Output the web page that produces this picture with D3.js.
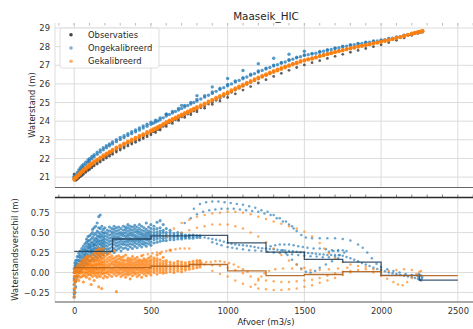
<!DOCTYPE html>
<html><head><meta charset="utf-8">
<script src="https://cdn.jsdelivr.net/npm/d3@7"></script>
<style>body{margin:0;background:#fff;}svg{display:block;font-family:"DejaVu Sans",sans-serif;}</style>
</head><body><svg id="c" width="473" height="329"></svg>
<script>
// ---------- DATA ----------
const title = "Maaseik_HIC";
const seriesNames = ["Observaties", "Ongekalibreerd", "Gekalibreerd"];
const xTicks = [0, 500, 1000, 1500, 2000, 2500];
const topYTicks = [21, 22, 23, 24, 25, 26, 27, 28, 29];
const botYTicks = [-0.25, 0, 0.25, 0.5, 0.75];

// top panel: discharge grid and water levels per track
const topQ = [0,10,20,30,40,50,60,75,90,100,115,130,150,170,190,210,230,250,275,300,325,350,375,400,425,450,475,500,530,560,600,640,680,720,760,800,850,900,950,1000,1050,1100,1150,1200,1250,1300,1350,1400,1450,1500,1550,1600,1650,1700,1750,1800,1850,1900,1950,2000,2050,2100,2150,2200,2240,2270];
const obsA = [21.15,20.88,20.95,21.02,21.10,21.17,21.24,21.34,21.44,21.50,21.60,21.69,21.80,21.91,22.02,22.12,22.22,22.32,22.44,22.55,22.66,22.77,22.87,22.97,23.07,23.17,23.27,23.37,23.49,23.62,23.83,23.99,24.15,24.31,24.46,24.62,24.82,25.02,25.22,25.44,25.67,25.88,26.08,26.28,26.48,26.66,26.83,26.99,27.14,27.28,27.39,27.52,27.63,27.73,27.83,27.92,28.01,28.10,28.18,28.26,28.35,28.44,28.55,28.67,28.75,28.81];
const obsB = [20.95,20.82,20.88,20.95,21.02,21.08,21.15,21.25,21.35,21.41,21.50,21.60,21.70,21.81,21.92,22.02,22.12,22.22,22.34,22.45,22.56,22.67,22.77,22.87,22.97,23.07,23.17,23.27,23.39,23.52,23.72,23.88,24.04,24.20,24.35,24.50,24.70,24.90,25.08,25.27,25.47,25.67,25.86,26.05,26.23,26.40,26.57,26.73,26.88,27.02,27.14,27.25,27.37,27.48,27.59,27.70,27.80,27.90,28.00,28.10,28.22,28.34,28.47,28.61,28.71,28.79];
const blueA = [20.97,21.03,21.13,21.24,21.35,21.45,21.54,21.67,21.79,21.86,21.98,22.09,22.22,22.34,22.46,22.57,22.68,22.78,22.90,23.01,23.12,23.23,23.33,23.43,23.53,23.63,23.73,23.83,23.95,24.08,24.28,24.44,24.60,24.76,24.92,25.08,25.29,25.49,25.70,25.90,26.10,26.28,26.46,26.64,26.80,26.96,27.11,27.26,27.40,27.53,27.60,27.70,27.80,27.90,27.99,28.07,28.14,28.21,28.28,28.34,28.42,28.50,28.59,28.70,28.76,28.80];
const blueB = [21.05,21.12,21.25,21.38,21.50,21.60,21.68,21.80,21.92,21.98,22.10,22.20,22.33,22.46,22.57,22.68,22.78,22.88,23.00,23.12,23.22,23.33,23.43,23.53,23.64,23.74,23.84,23.94,24.05,24.18,24.36,24.52,24.68,24.84,25.00,25.16,25.37,25.57,25.77,25.97,26.16,26.34,26.52,26.69,26.85,27.01,27.15,27.30,27.43,27.56,27.64,27.74,27.84,27.93,28.02,28.10,28.17,28.24,28.30,28.36,28.44,28.52,28.61,28.71,28.78,28.83];
const orangeA = [20.85,20.93,21.01,21.09,21.17,21.25,21.32,21.42,21.52,21.58,21.68,21.77,21.88,21.99,22.10,22.20,22.30,22.40,22.52,22.63,22.74,22.85,22.95,23.05,23.15,23.25,23.35,23.45,23.57,23.70,23.90,24.06,24.22,24.38,24.54,24.70,24.90,25.10,25.30,25.50,25.71,25.91,26.10,26.29,26.47,26.64,26.80,26.96,27.11,27.25,27.35,27.48,27.59,27.70,27.80,27.90,27.99,28.08,28.17,28.25,28.35,28.45,28.56,28.68,28.76,28.82];
const orangeB = [20.92,21.00,21.09,21.16,21.25,21.31,21.40,21.49,21.58,21.66,21.75,21.85,21.95,22.06,22.17,22.27,22.37,22.47,22.59,22.70,22.81,22.91,23.02,23.12,23.22,23.31,23.42,23.51,23.63,23.76,23.96,24.12,24.28,24.44,24.60,24.76,24.96,25.16,25.36,25.56,25.77,25.97,26.16,26.35,26.53,26.70,26.86,27.01,27.15,27.28,27.37,27.50,27.61,27.72,27.82,27.92,28.01,28.10,28.19,28.28,28.38,28.48,28.59,28.71,28.79,28.86];
// extra readings between the grid points at higher discharges
const topQ2 = [515,545,580,620,660,700,740,780,825,875,925,975,1025,1075,1125,1175,1225,1275,1325,1375,1425,1475,1525,1575,1625,1675,1725,1775,1825,1875,1925,1975,2025,2075,2125,2175,2220,2255];
const obsA2 = [23.43,23.55,23.72,23.91,24.07,24.23,24.38,24.54,24.72,24.92,25.12,25.33,25.55,25.77,25.98,26.18,26.38,26.57,26.75,26.91,27.06,27.21,27.33,27.45,27.57,27.68,27.78,27.87,27.96,28.05,28.14,28.22,28.30,28.39,28.49,28.61,28.71,28.78];
const blueA2 = [23.89,24.01,24.18,24.36,24.52,24.68,24.84,25.00,25.19,25.39,25.60,25.80,26.00,26.19,26.37,26.55,26.72,26.88,27.03,27.18,27.33,27.46,27.57,27.65,27.75,27.85,27.94,28.03,28.10,28.17,28.24,28.31,28.38,28.46,28.54,28.64,28.73,28.78];
const orangeA2 = [23.51,23.63,23.80,23.98,24.14,24.30,24.46,24.62,24.80,25.00,25.20,25.40,25.61,25.81,26.01,26.20,26.38,26.56,26.72,26.88,27.04,27.18,27.30,27.41,27.53,27.64,27.75,27.85,27.94,28.03,28.12,28.21,28.30,28.40,28.50,28.62,28.72,28.79];
const orangeB2 = [23.57,23.69,23.86,24.04,24.20,24.36,24.52,24.68,24.86,25.06,25.26,25.46,25.67,25.87,26.07,26.26,26.44,26.62,26.78,26.94,27.09,27.23,27.33,27.43,27.55,27.66,27.77,27.87,27.96,28.05,28.14,28.23,28.33,28.43,28.53,28.65,28.75,28.82];
const blueTopExtra = [[600,24.39],[700,24.85],[800,25.37],[900,25.84],[1000,26.29],[1100,26.72],[1200,27.08],[1300,27.38],[1400,27.59],[1500,27.75]];

// bottom panel: dense clouds as [Q, [differences]]
const blueCloud = [
[0,[-0.31,-0.27,-0.22,-0.15,-0.08,0.0,0.05]],[5,[-0.25,-0.12,-0.05,0.02,0.08,0.12]],[10,[-0.18,-0.1,0.0,0.06,0.1,0.15]],
[20,[-0.05,0.02,0.08,0.12,0.16,0.2]],[30,[0.0,0.06,0.1,0.15,0.2,0.24]],[40,[0.02,0.08,0.14,0.18,0.22,0.27]],
[50,[0.05,0.1,0.15,0.2,0.25,0.3,0.12]],[60,[0.08,0.13,0.18,0.23,0.28,0.33]],[70,[0.1,0.15,0.2,0.26,0.3,0.36,0.22]],
[80,[0.12,0.18,0.24,0.28,0.33,0.38,0.42]],[90,[0.1,0.16,0.22,0.27,0.31,0.36,0.4,0.45]],[100,[0.14,0.2,0.25,0.3,0.35,0.4,0.46,0.33]],
[110,[0.15,0.22,0.28,0.32,0.37,0.42,0.48,0.26]],[120,[0.18,0.24,0.29,0.34,0.38,0.44,0.5,0.54]],[130,[0.16,0.22,0.27,0.31,0.36,0.41,0.47,0.56,0.34]],
[140,[0.2,0.25,0.3,0.35,0.39,0.43,0.49,0.58]],[150,[0.18,0.24,0.29,0.33,0.38,0.42,0.46,0.52,0.62]],[160,[0.22,0.27,0.31,0.36,0.4,0.45,0.5,0.56,0.7]],
[170,[0.2,0.26,0.3,0.35,0.39,0.44,0.48,0.55,0.72]],[180,[0.24,0.29,0.33,0.37,0.41,0.46,0.51,0.58]],[190,[0.22,0.28,0.32,0.36,0.4,0.44,0.49,0.54]],
[200,[0.25,0.3,0.34,0.38,0.42,0.46,0.5,0.56]],[215,[0.24,0.29,0.33,0.37,0.41,0.45,0.49,0.53]],[230,[0.26,0.3,0.35,0.39,0.43,0.47,0.52,0.57]],
[245,[0.27,0.32,0.36,0.4,0.44,0.48,0.51,0.55]],[260,[0.25,0.3,0.35,0.39,0.43,0.46,0.5,0.54,0.58]],[275,[0.28,0.33,0.37,0.41,0.44,0.48,0.52,0.56]],
[290,[0.3,0.34,0.38,0.42,0.45,0.49,0.53,0.57]],[305,[0.27,0.32,0.36,0.4,0.43,0.47,0.5,0.55]],[320,[0.3,0.35,0.38,0.42,0.46,0.49,0.53,0.58]],
[335,[0.31,0.35,0.39,0.43,0.46,0.5,0.54,0.57]],[350,[0.29,0.34,0.38,0.41,0.45,0.48,0.52,0.56,0.6]],[365,[0.32,0.36,0.4,0.43,0.47,0.5,0.54,0.58]],
[380,[0.3,0.35,0.39,0.42,0.46,0.49,0.53,0.57]],[395,[0.33,0.37,0.4,0.44,0.47,0.51,0.55,0.59]],[410,[0.31,0.36,0.4,0.43,0.46,0.5,0.53,0.57]],
[425,[0.34,0.38,0.41,0.44,0.48,0.51,0.55,0.6]],[440,[0.32,0.36,0.4,0.43,0.46,0.49,0.53,0.58]],[455,[0.35,0.38,0.42,0.45,0.48,0.52,0.56]],
[470,[0.33,0.37,0.41,0.44,0.47,0.5,0.54,0.62]],[485,[0.36,0.4,0.43,0.46,0.49,0.52,0.57]],[500,[0.34,0.38,0.42,0.45,0.48,0.51,0.55,0.6]],
[520,[0.37,0.41,0.44,0.47,0.5,0.54,0.58]],[540,[0.38,0.42,0.45,0.48,0.51,0.55,0.63]],[560,[0.39,0.43,0.46,0.49,0.52,0.56,0.65]],
[580,[0.4,0.43,0.46,0.5,0.53,0.6]],[600,[0.4,0.44,0.47,0.5,0.55]],[625,[0.41,0.44,0.47,0.5,0.53]],[650,[0.41,0.44,0.46,0.49]],
[675,[0.42,0.45,0.47,0.5]],[700,[0.42,0.44,0.47,0.49]],[725,[0.43,0.45,0.47]],[750,[0.43,0.45,0.47]],[775,[0.43,0.45,0.47]],
[800,[0.44,0.46]],[820,[0.44,0.46]]
];
const orangeCloud = [
[0,[-0.3,-0.25,-0.2,-0.15,-0.1,-0.05,0.0]],[5,[-0.2,-0.1,-0.04,0.0,0.03]],[10,[-0.12,-0.06,0.0,0.03,0.06]],
[20,[-0.08,-0.03,0.01,0.04,0.08]],[30,[-0.1,-0.04,0.0,0.03,0.06,0.1]],[40,[-0.06,-0.01,0.02,0.05,0.08,0.12]],
[50,[-0.05,0.0,0.03,0.06,0.1,0.14]],[60,[-0.12,-0.03,0.01,0.05,0.08,0.12,0.16]],[70,[-0.04,0.0,0.04,0.07,0.1,0.14,0.18]],
[80,[-0.06,-0.01,0.03,0.06,0.09,0.13,0.17,0.2]],[90,[-0.03,0.01,0.04,0.08,0.11,0.15,0.19]],[100,[-0.08,-0.02,0.02,0.05,0.09,0.12,0.16,0.21]],
[110,[-0.15,-0.03,0.01,0.04,0.08,0.11,0.15,0.19]],[120,[-0.05,0.0,0.03,0.07,0.1,0.14,0.18,0.22]],[130,[-0.1,-0.02,0.02,0.05,0.09,0.13,0.17,0.24]],
[140,[-0.04,0.0,0.04,0.08,0.11,0.15,0.2,0.26]],[150,[-0.06,-0.01,0.03,0.06,0.1,0.14,0.18,0.23,0.28]],[160,[-0.18,-0.03,0.01,0.05,0.09,0.12,0.16,0.21,0.25,0.3]],
[170,[-0.05,0.0,0.04,0.07,0.11,0.15,0.19,0.24,0.29]],[180,[-0.2,-0.02,0.02,0.06,0.1,0.13,0.17,0.22,0.27]],[190,[-0.07,-0.01,0.03,0.06,0.09,0.13,0.18,0.23,0.3]],
[200,[-0.04,0.0,0.04,0.07,0.11,0.15,0.2,0.25]],[215,[-0.06,-0.01,0.02,0.06,0.09,0.13,0.17,0.22]],[230,[-0.03,0.01,0.04,0.08,0.11,0.15,0.19,0.24]],
[245,[-0.05,0.0,0.03,0.06,0.1,0.13,0.17,0.21]],[260,[-0.02,0.02,0.05,0.08,0.11,0.14,0.18,0.27]],[275,[-0.24,-0.04,0.0,0.03,0.07,0.1,0.13,0.16,0.2]],
[290,[-0.02,0.01,0.04,0.07,0.1,0.13,0.17,0.21]],[305,[-0.05,-0.01,0.03,0.06,0.09,0.12,0.16,0.19]],[320,[-0.03,0.01,0.04,0.07,0.1,0.13,0.16,0.2]],
[335,[-0.06,-0.02,0.02,0.05,0.08,0.11,0.15,0.22]],[350,[-0.03,0.0,0.03,0.06,0.09,0.12,0.15,0.18]],[365,[-0.08,-0.02,0.02,0.05,0.08,0.11,0.14,0.17]],
[380,[-0.04,0.0,0.03,0.06,0.09,0.12,0.16,0.2]],[395,[-0.02,0.01,0.04,0.07,0.1,0.13,0.17]],[410,[-0.05,-0.01,0.03,0.06,0.09,0.12,0.15,0.19]],
[425,[-0.03,0.01,0.04,0.07,0.1,0.13,0.16]],[440,[-0.06,0.0,0.03,0.06,0.09,0.12,0.15,0.21]],[455,[-0.02,0.02,0.05,0.08,0.11,0.14,0.17]],
[470,[-0.04,0.0,0.03,0.07,0.1,0.13,0.16]],[485,[-0.01,0.02,0.05,0.08,0.11,0.14,0.18]],[500,[-0.03,0.01,0.04,0.07,0.1,0.13,0.16,0.2]],
[520,[0.0,0.03,0.06,0.09,0.12,0.15,0.18]],[540,[-0.02,0.02,0.05,0.08,0.11,0.14,0.17,0.22]],[560,[0.0,0.03,0.06,0.09,0.12,0.16,0.24]],
[580,[-0.01,0.02,0.05,0.08,0.11,0.14,0.19]],[600,[0.0,0.03,0.06,0.09,0.12,0.15]],[625,[0.01,0.04,0.07,0.1,0.13,0.28]],
[650,[0.0,0.03,0.06,0.09,0.12]],[675,[0.02,0.05,0.08,0.11,0.14]],[700,[0.01,0.04,0.07,0.1,0.13]],[725,[0.03,0.06,0.09,0.12]],
[750,[0.04,0.07,0.1,0.13]],[775,[0.05,0.08,0.11,0.14]],[800,[0.06,0.09,0.12,0.15]],[820,[0.07,0.1,0.13,0.15]]
];
// bottom panel: sparser trajectories [Q, difference]
const blueMain = [[850,0.44],[875,0.43],[900,0.42],[925,0.41],[950,0.40],[975,0.385],[1000,0.37],[1025,0.36],[1050,0.35],[1075,0.345],[1100,0.34],[1125,0.335],[1150,0.33],[1175,0.32],[1200,0.31],[1225,0.305],[1250,0.30],[1275,0.295],[1300,0.29],[1325,0.285],[1350,0.28],[1375,0.275],[1400,0.27],[1425,0.265],[1450,0.26],[1475,0.255],[1500,0.25],[1525,0.245],[1550,0.24],[1575,0.235],[1600,0.23],[1625,0.225],[1650,0.22],[1675,0.22],[1700,0.22],[1725,0.215],[1750,0.21],[1775,0.195],[1800,0.18]];
const blueLow = [[900,0.38],[930,0.36],[960,0.34],[1000,0.32],[1030,0.31],[1060,0.30],[1100,0.29],[1140,0.28],[1180,0.275],[1220,0.27],[1260,0.26],[1300,0.25],[1340,0.245],[1380,0.24],[1420,0.23],[1460,0.22],[1500,0.21],[1540,0.205],[1580,0.20],[1620,0.19],[1660,0.19],[1700,0.20],[1730,0.22],[1760,0.25],[1775,0.27],[1750,0.28],[1720,0.28],[1690,0.27],[1660,0.26]];
const blueTail = [[1825,0.16],[1850,0.14],[1875,0.12],[1900,0.10],[1925,0.08],[1950,0.06],[1975,0.045],[2000,0.03],[2025,0.015],[2050,0.0],[2075,-0.01],[2100,-0.02],[2125,-0.03],[2150,-0.04],[2175,-0.05],[2200,-0.06],[2220,-0.07],[2240,-0.08],[2250,-0.09],[2260,-0.1],[2265,-0.08],[2268,-0.06],[2262,-0.04],[2255,-0.03],[2245,-0.02]];
const blueArcHigh = [[780,0.8],[820,0.86],[860,0.88],[900,0.89],[940,0.89],[980,0.88],[1020,0.87],[1060,0.86],[1100,0.85],[1140,0.83],[1180,0.81],[1220,0.78],[1260,0.76],[1300,0.72],[1340,0.68],[1380,0.64],[1420,0.58],[1450,0.52],[1480,0.47],[1510,0.44],[1550,0.43],[1600,0.43],[1650,0.43],[1700,0.43],[1750,0.42],[1800,0.4],[1850,0.35],[1880,0.31],[1910,0.25],[1940,0.18],[1970,0.11],[2000,0.07],[2040,0.04],[2080,0.02],[2120,0.0],[2160,-0.02],[2200,-0.03],[2240,-0.05]];
const blueArcMid = [[720,0.62],[760,0.68],[800,0.73],[840,0.76],[880,0.78],[920,0.79],[960,0.8],[1000,0.8],[1040,0.8],[1080,0.79],[1120,0.78],[1160,0.77],[1200,0.76],[1240,0.74],[1280,0.72],[1320,0.68],[1360,0.64],[1400,0.6],[1430,0.55]];
const blueMid = [[1280,0.33],[1310,0.34],[1340,0.35],[1370,0.35],[1400,0.35],[1430,0.34],[1460,0.33],[1490,0.32],[1520,0.31],[1560,0.3],[1600,0.3],[1640,0.29],[1680,0.28],[1720,0.27]];
const blueDip = [[1360,0.28],[1390,0.22],[1420,0.16],[1450,0.1],[1480,0.05],[1510,0.01],[1540,0.0],[1570,0.02],[1600,0.06],[1640,0.1],[1680,0.14],[1720,0.18]];
const orangeMain = [[850,0.1],[900,0.09],[950,0.08],[1000,0.06],[1050,0.03],[1100,-0.01],[1150,-0.05],[1200,-0.08],[1250,-0.1],[1300,-0.11],[1350,-0.12],[1400,-0.12],[1450,-0.11],[1500,-0.1],[1550,-0.09],[1600,-0.07],[1650,-0.04],[1700,-0.01],[1750,0.01],[1800,0.02],[1850,0.03],[1900,0.04],[1950,0.04],[2000,0.03],[2050,0.02],[2100,0.03],[2150,0.04],[2200,0.03],[2250,0.01]];
const orangeLoop = [[900,0.02],[950,-0.02],[1000,-0.05],[1050,-0.1],[1100,-0.14],[1150,-0.18],[1200,-0.2],[1250,-0.21],[1300,-0.22],[1350,-0.22],[1400,-0.21],[1450,-0.2],[1500,-0.18],[1550,-0.16],[1600,-0.13],[1650,-0.1],[1700,-0.07],[1750,-0.03],[1800,0.0]];
const orangeRise = [[1180,-0.15],[1200,-0.1],[1220,-0.05],[1240,-0.01],[1270,0.02],[1310,0.04],[1360,0.05],[1420,0.05],[1480,0.04],[1540,0.03],[1600,0.03],[1660,0.04],[1720,0.05],[1780,0.06]];
const orangeDip = [[1950,0.0],[2000,-0.04],[2040,-0.08],[2080,-0.12],[2110,-0.15],[2140,-0.16],[2170,-0.12],[2200,-0.07],[2230,-0.02],[2260,0.02]];
const orangeArcHigh = [[600,0.45],[650,0.55],[700,0.62],[750,0.66],[800,0.7],[850,0.72],[900,0.74],[950,0.75],[1000,0.76],[1050,0.76],[1100,0.75],[1150,0.73],[1200,0.7],[1250,0.67],[1300,0.64],[1350,0.61],[1400,0.58],[1450,0.55],[1500,0.51],[1550,0.45],[1600,0.37],[1630,0.3],[1660,0.24],[1700,0.18],[1750,0.13],[1800,0.1],[1850,0.08],[1900,0.07]];
const orangeArcMid = [[700,0.5],[750,0.53],[800,0.56],[850,0.58],[900,0.6],[950,0.6],[1000,0.6],[1050,0.58],[1100,0.55],[1150,0.5],[1200,0.45],[1250,0.38],[1300,0.3],[1350,0.22],[1400,0.15],[1450,0.1],[1500,0.06]];
const orangeUpper = [[450,0.22],[480,0.23],[510,0.24],[540,0.25],[570,0.26],[600,0.27],[630,0.28],[660,0.29],[690,0.3],[720,0.3],[750,0.3]];
const orangeShelf = [[830,0.12],[860,0.13],[890,0.13],[920,0.14],[950,0.14],[980,0.13],[1010,0.12],[1040,0.1],[1070,0.07],[1100,0.04],[1130,0.01]];

// step lines (mean difference per discharge class)
const stepEdges = [0,250,500,750,1000,1250,1500,1750,2000,2250,2500];
const blueStep = [0.265,0.42,0.46,0.465,0.37,0.255,0.165,0.13,-0.035,-0.095];
const orangeStep = [0.062,0.062,0.078,0.10,0.02,-0.04,-0.025,0.012,-0.04,-0.04];

// ---------- DRAW ----------
const svg = d3.select("#c");
const C_OBS = "#2b2b2b", C_BLUE = "#1f77b4", C_OR = "#ff7f0e";
const x = d3.scaleLinear().domain([-125, 2625]).range([55, 477]);
const yT = d3.scaleLinear().domain([20.44, 29.27]).range([187.5, 23]);
const yB = d3.scaleLinear().domain([-0.37, 0.94]).range([302, 197.5]);

const defs = svg.append("defs");
defs.append("clipPath").attr("id","ct").append("rect").attr("x",55).attr("y",23).attr("width",422).attr("height",164.5);
defs.append("clipPath").attr("id","cb").append("rect").attr("x",55).attr("y",197.5).attr("width",422).attr("height",104.5);

function grid(g, y, yTicks, top, bottom){
  g.selectAll(null).data(xTicks).join("line").attr("x1",d=>x(d)).attr("x2",d=>x(d)).attr("y1",top).attr("y2",bottom)
    .attr("stroke","#dcdcdc").attr("stroke-width",1);
  g.selectAll(null).data(yTicks).join("line").attr("x1",55).attr("x2",473).attr("y1",d=>y(d)).attr("y2",d=>y(d))
    .attr("stroke","#dcdcdc").attr("stroke-width",1);
}
grid(svg.append("g"), yT, topYTicks, 23, 187.5);
grid(svg.append("g"), yB, botYTicks, 197.5, 302);

svg.append("line").attr("x1",55).attr("x2",55).attr("y1",23).attr("y2",187.5).attr("stroke","#dddddd");
svg.append("line").attr("x1",55).attr("x2",55).attr("y1",197.5).attr("y2",302).attr("stroke","#dddddd");

const minor = d3.range(-100, 2700, 100);
svg.append("g").selectAll("line").data(minor).join("line")
  .attr("x1",d=>x(d)).attr("x2",d=>x(d)).attr("y1",23).attr("y2",25.5).attr("stroke","#aaaaaa").attr("stroke-width",0.8);
svg.append("g").selectAll("line").data(minor).join("line")
  .attr("x1",d=>x(d)).attr("x2",d=>x(d)).attr("y1",194.5).attr("y2",197.5).attr("stroke","#666666").attr("stroke-width",0.8);

function dots(g, pts, y, color, r, op){
  g.append("g").selectAll("circle").data(pts).join("circle")
    .attr("cx",d=>x(d[0])).attr("cy",d=>y(d[1])).attr("r",r)
    .attr("fill",color).attr("fill-opacity",op);
}
const zipQ = arr => topQ.map((q,i)=>[q, arr[i]]);
const zipQ2 = arr => topQ2.map((q,i)=>[q, arr[i]]);
const flat = cloud => cloud.flatMap(([q, ds]) => ds.map(d => [q, d]));

// top panel
const gT = svg.append("g").attr("clip-path","url(#ct)");
dots(gT, zipQ(obsA).concat(zipQ(obsB), zipQ2(obsA2)), yT, C_OBS, 1.4, 0.75);
dots(gT, zipQ(blueA).concat(zipQ(blueB), zipQ2(blueA2), blueTopExtra), yT, C_BLUE, 1.7, 0.75);
dots(gT, zipQ(orangeA).concat(zipQ(orangeB), zipQ2(orangeA2), zipQ2(orangeB2)), yT, C_OR, 1.9, 0.9);

// bottom panel
const gB = svg.append("g").attr("clip-path","url(#cb)");
dots(gB, flat(blueCloud), yB, C_BLUE, 1.55, 0.7);
dots(gB, blueMain.concat(blueLow, blueTail, blueArcHigh, blueArcMid, blueMid, blueDip), yB, C_BLUE, 1.25, 0.65);
dots(gB, flat(orangeCloud), yB, C_OR, 1.55, 0.75);
dots(gB, orangeMain.concat(orangeLoop, orangeRise, orangeDip, orangeArcHigh, orangeArcMid, orangeUpper, orangeShelf), yB, C_OR, 1.25, 0.65);

const stepLine = d3.line().x(d=>x(d[0])).y(d=>yB(d[1])).curve(d3.curveStepAfter);
const stepPts = vals => vals.map((v,i)=>[stepEdges[i], v]).concat([[stepEdges[stepEdges.length-1], vals[vals.length-1]]]);
gB.append("path").attr("d", stepLine(stepPts(blueStep))).attr("fill","none").attr("stroke","#1d3b55").attr("stroke-opacity",0.85).attr("stroke-width",1.3);
gB.append("path").attr("d", stepLine(stepPts(orangeStep))).attr("fill","none").attr("stroke","#b0601c").attr("stroke-opacity",0.9).attr("stroke-width",1.3);

svg.append("line").attr("x1",55).attr("x2",473).attr("y1",187.5).attr("y2",187.5).attr("stroke","#666").attr("stroke-width",1.2);
svg.append("line").attr("x1",55).attr("x2",473).attr("y1",197.5).attr("y2",197.5).attr("stroke","#2a2a2a").attr("stroke-width",1.3);
svg.append("line").attr("x1",55).attr("x2",473).attr("y1",302).attr("y2",302).attr("stroke","#555").attr("stroke-width",1.2);

function styleAxis(g){ g.select(".domain").remove(); g.selectAll("text").attr("fill","#333").style("font-size","8.4px").style("font-family","DejaVu Sans"); }
svg.append("g").attr("transform","translate(55,0)")
  .call(d3.axisLeft(yT).tickValues(topYTicks).tickSize(0).tickPadding(5).tickFormat(d3.format("d"))).call(styleAxis);
svg.append("g").attr("transform","translate(55,0)")
  .call(d3.axisLeft(yB).tickValues(botYTicks).tickSize(0).tickPadding(5.5).tickFormat(d3.format(".2f"))).call(styleAxis);
svg.append("g").attr("transform","translate(0,302)")
  .call(d3.axisBottom(x).tickValues(xTicks).tickSize(0).tickPadding(6).tickFormat(d3.format("d"))).call(styleAxis);

svg.append("text").attr("x",266).attr("y",20).attr("text-anchor","middle").attr("fill","#262626").style("font-size","10.4px").text(title);
svg.append("text").attr("x",266).attr("y",324.5).attr("text-anchor","middle").attr("fill","#262626").style("font-size","8.4px").text("Afvoer (m3/s)");
svg.append("text").attr("transform","translate(34.5,105) rotate(-90)").attr("text-anchor","middle").attr("fill","#262626").style("font-size","8.4px").text("Waterstand (m)");
svg.append("text").attr("transform","translate(18,249.5) rotate(-90)").attr("text-anchor","middle").attr("fill","#262626").style("font-size","8.4px").text("Waterstandsverschil (m)");

const lg = svg.append("g");
lg.append("rect").attr("x",60).attr("y",28).attr("width",99).attr("height",40).attr("rx",2.5)
  .attr("fill","#fff").attr("fill-opacity",0.85).attr("stroke","#d5d5d5").attr("stroke-width",0.8);
const legColors = ["#444444", "#7fb2da", "#ffae6e"];
seriesNames.forEach((n,i)=>{
  const yy = 34.8 + i*13.2;
  lg.append("circle").attr("cx",71).attr("cy",yy).attr("r",1.8).attr("fill",legColors[i]);
  lg.append("text").attr("x",88).attr("y",yy).attr("dy","0.35em").attr("fill","#262626").style("font-size","8.4px").text(n);
});
</script></body></html>
